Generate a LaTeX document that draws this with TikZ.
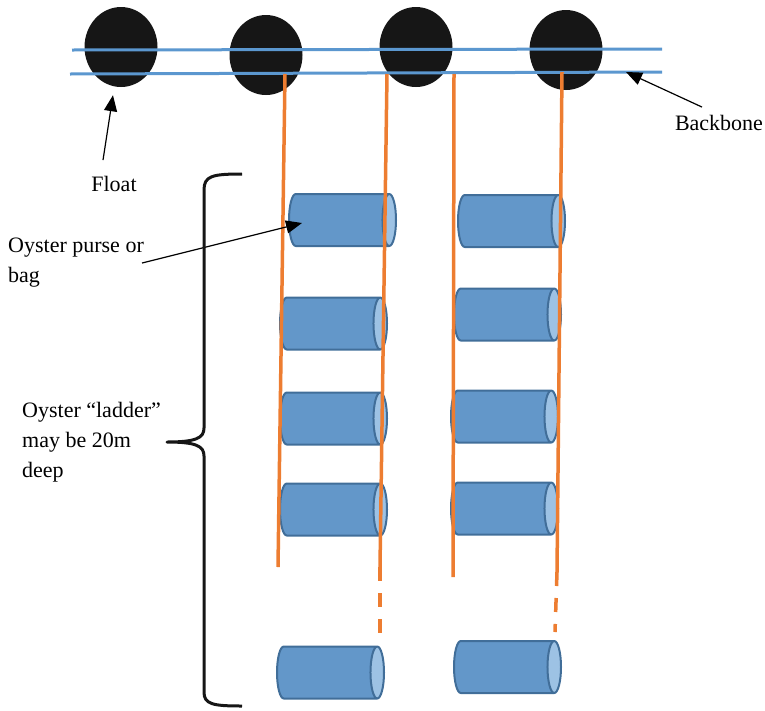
\documentclass[tikz,border=0pt]{standalone}
\usepackage{fontspec}
\setmainfont{Liberation Serif}
\usetikzlibrary{shapes.geometric,arrows.meta}
\definecolor{lineblue}{RGB}{91,151,207}
\definecolor{ropeorange}{RGB}{237,125,49}
\definecolor{bagblue}{RGB}{99,151,201}
\definecolor{bagend}{RGB}{157,194,228}
\definecolor{bagedge}{RGB}{65,110,153}
\definecolor{floatblack}{RGB}{22,22,22}
\tikzset{
    floatball/.style={ellipse, fill=floatblack, minimum width=73pt, minimum height=80pt, inner sep=0pt},
    bag/.style={cylinder, draw=bagedge, line width=2pt, cylinder uses custom fill,
        cylinder body fill=bagblue, cylinder end fill=bagend, aspect=0.26,
        minimum width=52pt, minimum height=107pt, inner xsep=0pt, inner ysep=26pt, anchor=west},
    backbone/.style={lineblue, line width=3pt},
    rope/.style={ropeorange, line width=3.5pt},
    ropeend/.style={rope, dash pattern=on 14pt off 12pt},
    lbl/.style={font=\fontsize{22}{30}\selectfont, align=left, inner sep=0pt},
    pointer/.style={-{Triangle[length=16pt,width=13pt]}, line width=1.2pt},
    bracket/.style={floatblack, line width=3pt, line join=round}
}
\begin{document}
\begin{tikzpicture}[x=1pt,y=1pt]
    \useasboundingbox (0,-710) rectangle (765,0);

    % floats
    \node[floatball] (flt1) at (121,-47) {};
    \node[floatball] (flt2) at (266,-55) {};
    \node[floatball] (flt3) at (416,-47) {};
    \node[floatball] (flt4) at (566,-50) {};

    % backbone
    \coordinate (bbTopW) at (72,-50);
    \coordinate (bbTopE) at (662,-49);
    \coordinate (bbBotW) at (70,-74);
    \coordinate (bbBotE) at (662,-72);
    \draw[backbone] (bbTopW) -- (bbTopE);
    \draw[backbone] (bbBotW) -- (bbBotE);

    % bags, first ladder
    \node[bag] (bagA1) at (288,-220) {};
    \node[bag] (bagA2) at (279,-323.5) {};
    \node[bag] (bagA3) at (279,-418.5) {};
    \node[bag] (bagA4) at (279,-509.5) {};
    \node[bag] (bagA5) at (276,-672.5) {};
    % bags, second ladder
    \node[bag] (bagB1) at (457,-221) {};
    \node[bag] (bagB2) at (453,-314.5) {};
    \node[bag] (bagB3) at (450,-416.5) {};
    \node[bag] (bagB4) at (450,-508.5) {};
    \node[bag] (bagB5) at (453,-667) {};

    % ropes
    \coordinate (rA1top) at (285,-74);
    \coordinate (rA1bot) at (278,-567);
    \coordinate (rA2top) at (387,-74);
    \coordinate (rA2bot) at (380,-567);
    \coordinate (rA2end) at (380,-637);
    \coordinate (rB1top) at (454,-74);
    \coordinate (rB1bot) at (453,-577);
    \coordinate (rB2top) at (562,-72);
    \coordinate (rB2bot) at (557,-572);
    \coordinate (rB2end) at (555,-632);
    \draw[rope] (rA1top) -- (rA1bot);
    \draw[rope] (rA2top) -- (rA2bot);
    \draw[ropeend] (rA2bot) -- (rA2end);
    \draw[rope] (rB1top) -- (rB1bot);
    \draw[rope] (rB2top) -- (rB2bot);
    \draw[ropeend] (rB2bot) -- (rB2end);

    % labels
    \node[lbl] (lblFloat) at (114,-184) {Float};
    \node[lbl] (lblBackbone) at (719,-123) {Backbone};
    \node[lbl, anchor=west] (lblBag) at (8,-263) {Oyster purse or\\bag};
    \node[lbl, anchor=west] (lblLadder) at (22,-442) {Oyster “ladder”\\may be 20m\\deep};

    % pointers
    \draw[pointer] ([shift={(-11pt,16pt)}]lblFloat.north) -- ([shift={(-8pt,-8pt)}]flt1.south);
    \draw[pointer] ([shift={(-17pt,8pt)}]lblBackbone.north) -- ([xshift=-36pt]bbBotE);
    \draw[pointer] ([xshift=-2pt]lblBag.east) -- ([shift={(14pt,-3pt)}]bagA1.west);

    % ladder depth
    \draw[bracket] (242,-174) .. controls (212,-174) and (204,-176) .. (204,-190) -- (204,-428)
        .. controls (204,-438) and (196,-442) .. (167,-442)
        .. controls (196,-442) and (204,-446) .. (204,-456) -- (204,-692)
        .. controls (204,-704) and (212,-706) .. (242,-706);
\end{tikzpicture}
\end{document}
